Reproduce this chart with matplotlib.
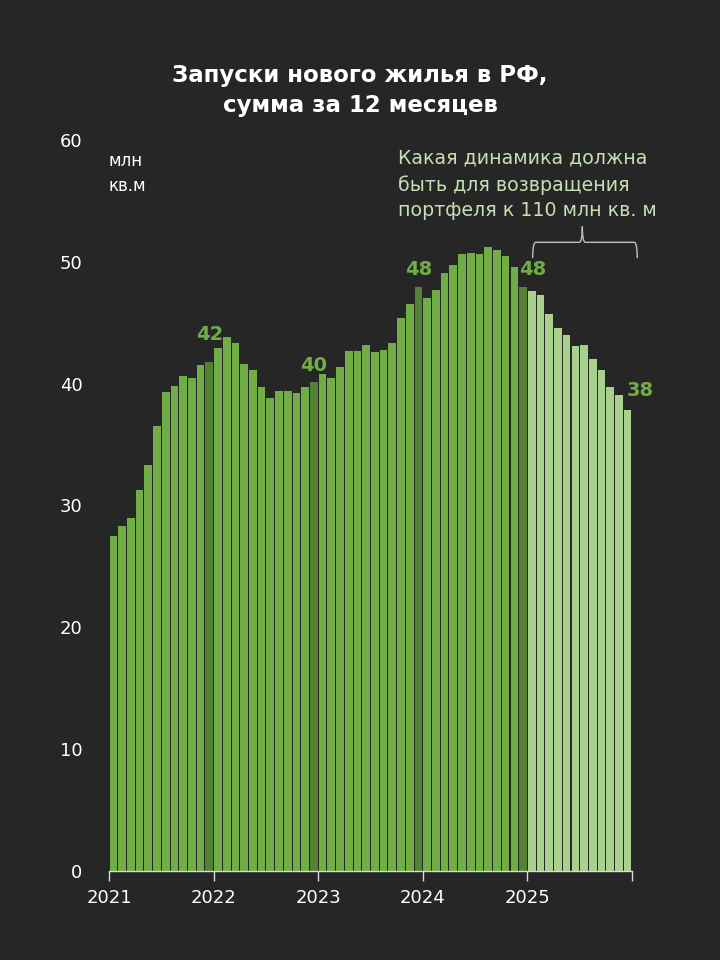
import numpy as np
import matplotlib.pyplot as plt
from matplotlib.path import Path
from matplotlib.patches import PathPatch

# помесячные значения, сумма за 12 месяцев, млн кв.м
values_2021 = [27.5, 28.3, 29.0, 31.3, 33.3, 36.5, 39.3, 39.8, 40.6, 40.5, 41.5, 41.8]
values_2022 = [42.9, 43.8, 43.3, 41.6, 41.1, 39.7, 38.8, 39.4, 39.4, 39.2, 39.7, 40.1]
values_2023 = [40.8, 40.5, 41.4, 42.7, 42.7, 43.2, 42.6, 42.8, 43.3, 45.4, 46.5, 47.9]
values_2024 = [47.0, 47.7, 49.1, 49.7, 50.6, 50.7, 50.6, 51.2, 51.0, 50.5, 49.6, 47.9]
values_2025 = [47.6, 47.3, 45.7, 44.6, 44.0, 43.1, 43.2, 42.0, 41.1, 39.7, 39.1, 37.8]

years = ['2021', '2022', '2023', '2024', '2025']
label_texts = ['42', '40', '48', '48', '38']

BG = '#262626'
GREEN = '#70ad47'
DARK = '#548235'
LIGHT = '#a9d18e'
NOTE = '#c5e0b4'


def main():
    values = values_2021 + values_2022 + values_2023 + values_2024 + values_2025
    n = len(values)
    x = np.arange(n)

    colors = []
    for i in range(n):
        if i >= 48:
            colors.append(LIGHT)
        elif i % 12 == 11:
            colors.append(DARK)
        else:
            colors.append(GREEN)

    plt.rcParams['font.family'] = ['DejaVu Sans']
    fig = plt.figure(figsize=(7.2, 9.6), dpi=100, facecolor=BG)
    ax = fig.add_axes([0.1514, 0.0927, 0.7264, 0.7615], facecolor=BG)

    ax.bar(x, values, width=0.88, color=colors, linewidth=0)

    ax.set_xlim(-0.5, n - 0.5)
    ax.set_ylim(0, 60)
    ax.set_yticks(range(0, 61, 10))
    ax.tick_params(axis='y', length=0, pad=19, labelsize=13, labelcolor='white')

    year_ticks = [-0.5 + 12 * k for k in range(len(years) + 1)]
    ax.set_xticks(year_ticks)
    ax.set_xticklabels(years + [''])
    ax.tick_params(axis='x', direction='out', length=7, width=1, color='#d9d9d9',
                   pad=6, labelsize=13, labelcolor='white')

    for side in ['top', 'right', 'left']:
        ax.spines[side].set_visible(False)
    ax.spines['bottom'].set_color('#d9d9d9')
    ax.spines['bottom'].set_linewidth(1)

    # подписи значений над декабрями и последним месяцем
    label_idx = [11, 23, 35, 47, 59]
    offsets = [(0, 2.2), (0, 1.4), (0, 1.5), (1.1, 1.5), (1.4, 1.6)]
    for idx, txt, (dx, dy) in zip(label_idx, label_texts, offsets):
        ax.text(x[idx] + dx, values[idx] + dy, txt, ha='center', va='center',
                fontsize=14, fontweight='bold', color=GREEN)

    # единицы измерения
    ax.text(-0.6, 58.3, 'млн', ha='left', va='center', fontsize=12, color='white')
    ax.text(-0.6, 56.2, 'кв.м', ha='left', va='center', fontsize=12, color='white')

    # пояснение справа
    note_lines = ['Какая динамика должна', 'быть для возвращения', 'портфеля к 110 млн кв. м']
    for line, yy in zip(note_lines, [58.5, 56.3, 54.2]):
        ax.text(32.7, yy, line, ha='left', va='center', fontsize=13.7, color=NOTE)

    # фигурная скобка над 2025 годом
    x0, x1 = 48.1, 60.1
    xm = (x0 + x1) / 2 - 0.3
    yb, yt, ytip = 50.3, 51.6, 52.9
    r = 0.35
    verts = [
        (x0, yb), (x0, yt), (x0 + r, yt),
        (xm - r, yt), (xm, yt), (xm, ytip),
        (xm, yt), (xm + r, yt),
        (x1 - r, yt), (x1, yt), (x1, yb),
    ]
    codes = [Path.MOVETO, Path.CURVE3, Path.CURVE3,
             Path.LINETO, Path.CURVE3, Path.CURVE3,
             Path.CURVE3, Path.CURVE3,
             Path.LINETO, Path.CURVE3, Path.CURVE3]
    brace = PathPatch(Path(verts, codes), facecolor='none', edgecolor='#bfbfbf',
                      linewidth=1, clip_on=False)
    ax.add_patch(brace)

    fig.text(0.5, 0.921, 'Запуски нового жилья в РФ,', ha='center', va='center',
             fontsize=16.5, fontweight='bold', color='white')
    fig.text(0.5, 0.890, 'сумма за 12 месяцев', ha='center', va='center',
             fontsize=16.5, fontweight='bold', color='white')

    fig.savefig('out.png', dpi=100, facecolor=BG)


if __name__ == "__main__":
    main()
